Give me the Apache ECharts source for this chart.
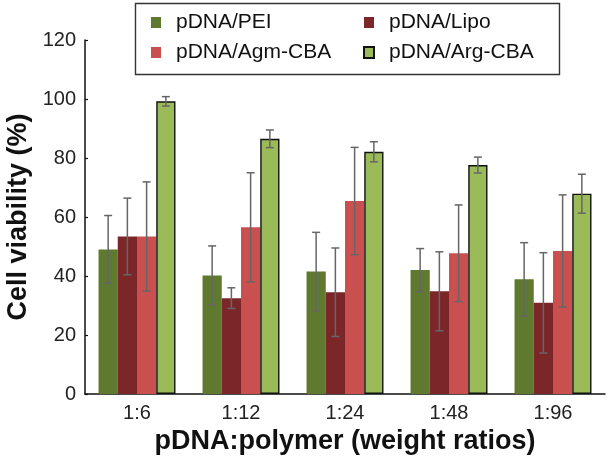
<!DOCTYPE html>
<html><head><meta charset="utf-8">
<script src="https://cdn.jsdelivr.net/npm/echarts@6/dist/echarts.min.js"></script>
<style>html,body{margin:0;padding:0;background:#fff}#c{width:608px;height:462px}</style>
</head><body><div id="c"></div>
<script>
var categories = ['1:6','1:12','1:24','1:48','1:96'];
var seriesNames = ['pDNA/PEI','pDNA/Lipo','pDNA/Agm-CBA','pDNA/Arg-CBA'];
var peiVals  = [49.0, 40.2, 41.5, 42.0, 38.9];
var peiErr   = [11.5, 10.0, 13.3, 7.3, 12.4];
var lipoVals = [53.4, 32.5, 34.5, 34.8, 30.9];
var lipoErr  = [13.0, 3.5, 15.0, 13.4, 17.0];
var agmVals  = [53.4, 56.5, 65.4, 47.7, 48.5];
var agmErr   = [18.5, 18.5, 18.2, 16.4, 19.0];
var argVals  = [99.2, 86.5, 82.1, 77.6, 67.9];
var argErr   = [1.6, 3.0, 3.4, 2.7, 6.6];
var yTicks   = [0, 20, 40, 60, 80, 100, 120];

var colors = ['#5f7a2f', '#7b2729', '#c9504f', '#9bbb59'];
var allVals = [peiVals, lipoVals, agmVals, argVals];
var allErr = [peiErr, lipoErr, agmErr, argErr];
var gapPct = 0.26;

var series = [];
allVals.forEach(function (vals, i) {
  series.push({
    name: seriesNames[i], type: 'bar', data: vals,
    barGap: '0%', barCategoryGap: (gapPct * 100) + '%',
    itemStyle: { color: colors[i], borderColor: i === 3 ? '#111' : colors[i], borderWidth: i === 3 ? 1.4 : 0 },
    z: 2
  });
});
allVals.forEach(function (vals, i) {
  var data = vals.map(function (v, k) { return [k, v - allErr[i][k], v + allErr[i][k]]; });
  series.push({
    type: 'custom', name: seriesNames[i] + ' err', data: data, z: 5,
    renderItem: function (params, api) {
      var k = api.value(0);
      var band = api.size([1, 0])[0];
      var bw = band * (1 - gapPct) / 4;
      var off = (i - 1.5) * bw;
      var lo = api.coord([k, api.value(1)]);
      var hi = api.coord([k, api.value(2)]);
      var x = lo[0] + off;
      var cap = 4;
      var st = { stroke: '#666666', lineWidth: 1.5 };
      return { type: 'group', children: [
        { type: 'line', shape: { x1: x, y1: lo[1], x2: x, y2: hi[1] }, style: st },
        { type: 'line', shape: { x1: x - cap, y1: lo[1], x2: x + cap, y2: lo[1] }, style: st },
        { type: 'line', shape: { x1: x - cap, y1: hi[1], x2: x + cap, y2: hi[1] }, style: st }
      ]};
    },
    encode: { x: 0, y: [1, 2] },
    silent: true
  });
});

var chart = echarts.init(document.getElementById('c'), null, { renderer: 'canvas' });
var font = 'Liberation Sans, Arial, sans-serif';
var legendText = { fontSize: 21, color: '#111', fontFamily: font, padding: [0, 0, 0, 10] };
chart.setOption({
  animation: false,
  textStyle: { fontFamily: font },
  grid: { left: 85, right: 3, top: 40, bottom: 68, containLabel: false, outerBoundsMode: 'none' },
  legend: [
    { data: [seriesNames[0], seriesNames[2]], orient: 'vertical', left: 151, top: 12,
      itemWidth: 10, itemHeight: 11, itemGap: 9, icon: 'rect', padding: 0,
      textStyle: legendText },
    { data: [seriesNames[1], seriesNames[3]], orient: 'vertical', left: 363, top: 12,
      itemWidth: 10, itemHeight: 11, itemGap: 9, icon: 'rect', padding: 0,
      textStyle: legendText }
  ],
  graphic: [{ type: 'rect', left: 133, top: 1, shape: { width: 424, height: 71 },
    style: { fill: 'none', stroke: '#333', lineWidth: 1.4 }, z: 10 }],
  xAxis: {
    type: 'category', data: categories,
    name: 'pDNA:polymer (weight ratios)', nameLocation: 'middle', nameGap: 33,
    nameTextStyle: { fontSize: 27, fontWeight: 'bold', color: '#111', fontFamily: font },
    axisLine: { lineStyle: { color: '#111', width: 1.5 } },
    axisTick: { inside: true, length: 5, lineStyle: { color: '#111', width: 1.2 } },
    axisLabel: { fontSize: 20, color: '#222', margin: 9, fontFamily: font }
  },
  yAxis: {
    type: 'value', min: yTicks[0], max: yTicks[yTicks.length - 1], interval: 20,
    name: 'Cell viability (%)', nameLocation: 'middle', nameGap: 51, nameRotate: 90,
    nameTextStyle: { fontSize: 27, fontWeight: 'bold', color: '#111', fontFamily: font },
    axisLine: { show: true, lineStyle: { color: '#111', width: 1.5 } },
    axisTick: { show: true, inside: true, length: 3, lineStyle: { color: '#111', width: 1.2 } },
    axisLabel: { fontSize: 20, color: '#222', margin: 9, fontFamily: font },
    splitLine: { show: false }
  },
  series: series
});
</script></body></html>
